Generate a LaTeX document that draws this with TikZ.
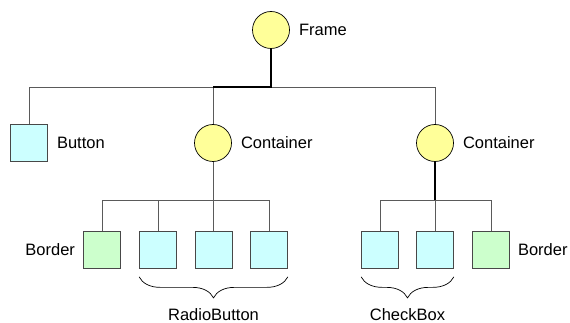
\documentclass[tikz,border=0pt]{standalone}
\definecolor{NodeYellow}{RGB}{255,255,153}
\definecolor{NodeCyan}{RGB}{204,255,255}
\definecolor{NodeGreen}{RGB}{204,255,204}
\definecolor{WireGray}{RGB}{90,90,90}
\usepackage{fontspec}
\setmainfont{Liberation Sans}
\usepackage{tikz}
\usetikzlibrary{positioning, decorations.pathreplacing}

\begin{document}
\begin{tikzpicture}[x=1pt, y=-1pt,
    every node/.style={font=\fontsize{16.5}{19}\selectfont},
    comp/.style={circle, draw=black, line width=0.7pt, fill=NodeYellow, minimum size=37pt, inner sep=0pt},
    leaf/.style={rectangle, draw=WireGray!80!black, line width=0.7pt, fill=NodeCyan, minimum size=37pt, inner sep=0pt},
    frm/.style={leaf, fill=NodeGreen},
    txt/.style={inner sep=0pt},
    wire/.style={WireGray, line width=0.8pt},
    heavy/.style={black, line width=1.8pt},
    grp/.style={decorate, decoration={brace, mirror, amplitude=21pt}, line width=0.7pt, black}]
          \useasboundingbox (0,0) rectangle (570,323);
          % containers
          \node[comp] (frame) at (271,30) {};
          \node[comp] (cont1) at (213,143) {};
          \node[comp] (cont2) at (435,143) {};
          \node[txt, right=9pt of frame] (framelbl) {Frame};
          \node[txt, right=9pt of cont1] (cont1lbl) {Container};
          \node[txt, right=9pt of cont2] (cont2lbl) {Container};
          % leaves
          \node[leaf] (button) at (29,143) {};
          \node[txt, right=9pt of button] (buttonlbl) {Button};
          \node[frm] (border1) at (102,250) {};
          \node[leaf] (rb1) at (158,250) {};
          \node[leaf] (rb2) at (213.5,250) {};
          \node[leaf] (rb3) at (269,250) {};
          \node[leaf] (cb1) at (380,250) {};
          \node[leaf] (cb2) at (435,250) {};
          \node[frm] (border2) at (491,250) {};
          \node[txt, left=8pt of border1] (border1lbl) {Border};
          \node[txt, right=8pt of border2] (border2lbl) {Border};
          % bus lines
          \coordinate (top) at (271,87);
          \coordinate (mid1) at (213,200);
          \coordinate (mid2) at (435,200);
          \draw[wire] (button.north) |- (cont2 |- top) -- (cont2.north);
          \draw[wire] (cont1.north) -- (cont1 |- top);
          \draw[heavy] (frame.south) -- (top) -- (cont1 |- top);
          \draw[wire] (cont1.south) -- (mid1);
          \draw[wire] (border1 |- mid1) -- (rb3 |- mid1);
          \foreach \k in {border1,rb1,rb2,rb3}
            \draw[wire] (\k.north) -- (\k |- mid1);
          \draw[heavy] (cont2.south) -- (mid2);
          \draw[wire] (cb1 |- mid2) -- (border2 |- mid2);
          \foreach \k in {cb1,cb2,border2}
            \draw[wire] (\k.north) -- (\k |- mid2);
          % groups
          \draw[grp] ([yshift=-8pt]rb1.south west) -- ([yshift=-8pt]rb3.south east)
            node[txt, midway, below=31pt] (rblbl) {RadioButton};
          \draw[grp] ([yshift=-8pt]cb1.south west) -- ([yshift=-8pt]cb2.south east)
            node[txt, midway, below=31pt] (cblbl) {CheckBox};
        \end{tikzpicture}
\end{document}
